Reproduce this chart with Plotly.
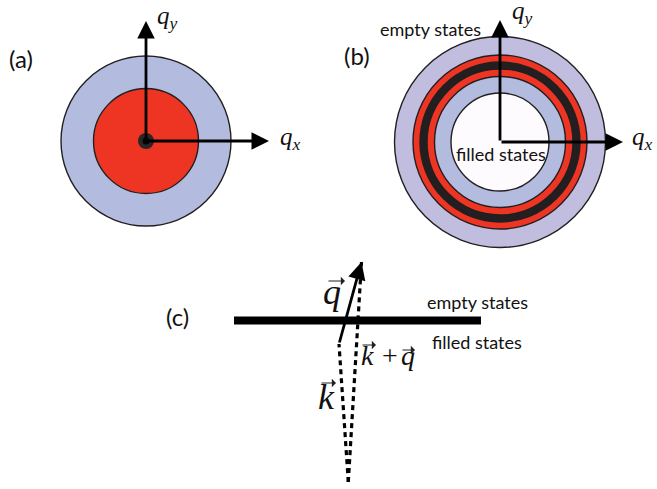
import plotly.graph_objects as go

W, H = 657, 489

# ---- panel (a): Fermi disc ----
a_center = (146, 141)
a_radii = [85, 52.5]
a_colors = ["#b3bcdf", "#ee3524"]
a_dot = [8, 3.5]
a_dot_colors = ["#2a2627", "#000000"]
a_axis_len = [123, 120]  # qx length, qy length

# ---- panel (b): shells ----
b_center = (500, 142)
b_radii = [105.5, 87, 80, 73, 65.5, 49]
b_colors = ["#c0bddf", "#ee3524", "#231f20", "#ee3524", "#b3bcdf", "#fdfbfd"]
b_axis_len = [123, 122]

# ---- panel (c): scattering construction ----
c_bar_x = [234, 481]
c_bar_y = 320.5
c_origin = (348.3, 482)
c_k_end = (339, 344)
c_kq_end = (361.5, 262)

# sans labels: (text, x, y, size)
texts = [
    ("(a)", 20.5, 58, 24),
    ("(b)", 357, 55, 24),
    ("(c)", 177, 316, 24),
    ("empty states", 430, 29, 18),
    ("filled states", 501, 154, 18),
    ("empty states", 477, 302, 18),
    ("filled states", 477, 342, 18),
]
# math labels: (text, x, y, size)
math_texts = [
    ("<i>q<sub>y</sub></i>", 167.5, 17, 25),
    ("<i>q<sub>x</sub></i>", 290.5, 138, 25),
    ("<i>q<sub>y</sub></i>", 522.5, 12, 25),
    ("<i>q<sub>x</sub></i>", 642.5, 138.5, 25),
    ("<i>q</i>", 332, 292, 36),
    ("<i>k</i>", 326, 397, 36),
    ("<i>k</i>", 367.5, 355, 28),
    ("+", 390, 355, 28),
    ("<i>q</i>", 408, 355, 28),
]
# vector accents over letters: (x0, x1, y)
accents = [
    (327, 345, 281),
    (320, 336, 383),
    (361, 376, 345),
    (401, 415, 350),
]

fig = go.Figure()
shapes = []

def disc(cx, cy, r, color, lw=1.4, lc="#231f20"):
    return dict(type="circle", xref="x", yref="y", x0=cx - r, x1=cx + r,
                y0=cy - r, y1=cy + r, fillcolor=color,
                line=dict(color=lc, width=lw), layer="below")

for r, c in zip(a_radii, a_colors):
    shapes.append(disc(a_center[0], a_center[1], r, c))
for r, c in zip(b_radii, b_colors):
    shapes.append(disc(b_center[0], b_center[1], r, c))

# bar
fig.add_trace(go.Scatter(x=c_bar_x, y=[c_bar_y, c_bar_y], mode="lines",
                         line=dict(color="black", width=8), hoverinfo="skip"))
# dashed k and k+q
for end in (c_k_end, c_kq_end):
    fig.add_trace(go.Scatter(x=[c_origin[0], end[0]], y=[c_origin[1], end[1]],
                             mode="lines", line=dict(color="black", width=3.2, dash="5px,4px"),
                             hoverinfo="skip"))

annotations = []

def arrow(x0, y0, x1, y1, w=2.8, size=1.25, color="black", head=2):
    return dict(x=x1, y=y1, ax=x0, ay=y0, xref="x", yref="y", axref="x", ayref="y",
                showarrow=True, arrowhead=head, arrowsize=size, arrowwidth=w,
                arrowcolor=color, text="", standoff=0, startstandoff=0)

for cen, L in ((a_center, a_axis_len), (b_center, b_axis_len)):
    annotations.append(arrow(cen[0], cen[1], cen[0] + L[0], cen[1]))
    annotations.append(arrow(cen[0], cen[1], cen[0], cen[1] - L[1]))
annotations.append(arrow(c_k_end[0], c_k_end[1], c_kq_end[0], c_kq_end[1]))

for x0, x1, y in accents:
    annotations.append(arrow(x0, y, x1, y, w=1.0, size=1.4, color="#222", head=1))

for t, x, y, s in texts:
    annotations.append(dict(text=t, x=x, y=y, xref="x", yref="y", showarrow=False,
                            font=dict(size=s, family="Lato", color="#111"),
                            xanchor="center", yanchor="middle"))
for t, x, y, s in math_texts:
    annotations.append(dict(text=t, x=x, y=y, xref="x", yref="y", showarrow=False,
                            font=dict(size=s, family="Liberation Serif", color="#111"),
                            xanchor="center", yanchor="middle"))

fig.update_layout(shapes=shapes, annotations=annotations)
# center dot of (a)
for r, c in zip(a_dot, a_dot_colors):
    fig.add_trace(go.Scatter(x=[a_center[0]], y=[a_center[1]], mode="markers",
                             marker=dict(size=2 * r, color=c), hoverinfo="skip"))

fig.update_layout(
    width=W, height=H, margin=dict(l=0, r=0, t=0, b=0),
    paper_bgcolor="white", plot_bgcolor="white", showlegend=False,
    xaxis=dict(range=[0, W], visible=False, fixedrange=True),
    yaxis=dict(range=[H, 0], visible=False, fixedrange=True),
)
fig.write_html("out.html", config={"displayModeBar": False},
               post_script="document.body.style.margin='0px';document.body.style.overflow='hidden';")
